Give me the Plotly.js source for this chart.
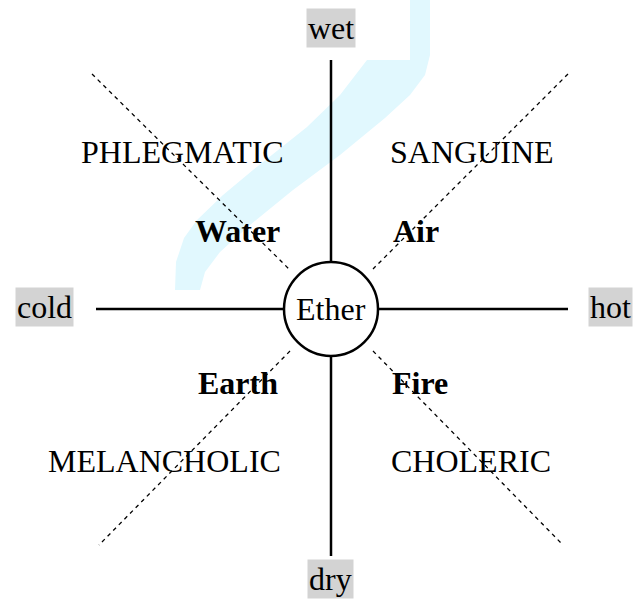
<!DOCTYPE html>
<html>
<head>
<meta charset="utf-8">
<script src="https://cdn.plot.ly/plotly-3.0.1.min.js"></script>
<style>html,body{margin:0;padding:0;background:#fff;}#chart{width:634px;height:599px;}</style>
</head>
<body>
<div id="chart"></div>
<script>
// Axis (quality) labels with grey boxes
const axisLabels = ["wet", "cold", "hot", "dry"];
const axisLabelX = [331, 44, 610, 330];
const axisLabelY = [28, 307, 307, 579];

// Temperament labels
const temperaments = ["PHLEGMATIC", "SANGUINE", "MELANCHOLIC", "CHOLERIC"];
const temperamentX = [182, 472, 164, 471];
const temperamentY = [152, 152, 461, 461];

// Elements
const elements = ["Water", "Air", "Earth", "Fire"];
const elementX = [237, 416, 238, 420];
const elementY = [231, 231, 383, 383];

// Centre
const centreLabel = "Ether";
const centreX = 331, centreY = 309, centreR = 47;

// Solid axis segments [x0,y0,x1,y1]
const solidSegments = [
  [331, 60, 331, 262],
  [331, 356, 331, 556],
  [96, 309, 284, 309],
  [378, 309, 568, 309]
];
// Dashed diagonal segments
const dashedSegments = [
  [92, 74, 289, 269],
  [568, 74, 373, 269],
  [290, 351, 99, 545],
  [373, 351, 563, 545]
];

// Watermark band outline
const bandX = [175,176,184,197,223,253,307,340,367,410,410,430,430,425,410,385,340,293,250,220,205,200];
const bandY = [290,262,238,220,195,170,127,95,60,60,0,0,55,75,95,118,155,190,225,252,272,290];

const font = "Liberation Serif, 'Times New Roman', Times, serif";
const fs = 32;
const shapes = [];
let p = "M " + bandX[0] + " " + bandY[0];
for (let i = 1; i < bandX.length; i++) p += " L " + bandX[i] + " " + bandY[i];
p += " Z";
shapes.push({type: "path", path: p, xref: "x", yref: "y", fillcolor: "#e1f8fe", line: {width: 0}, layer: "below"});
solidSegments.forEach(s => shapes.push({type: "line", xref: "x", yref: "y", x0: s[0], y0: s[1], x1: s[2], y1: s[3], line: {color: "#000", width: 2.5}}));
dashedSegments.forEach(s => shapes.push({type: "line", xref: "x", yref: "y", x0: s[0], y0: s[1], x1: s[2], y1: s[3], line: {color: "#000", width: 1.3, dash: "4px,4px"}}));
shapes.push({type: "circle", xref: "x", yref: "y", x0: centreX - centreR, x1: centreX + centreR, y0: centreY - centreR, y1: centreY + centreR, line: {color: "#000", width: 2.5}, fillcolor: "rgba(255,255,255,0)"});

const annotations = [];
axisLabels.forEach((t, i) => annotations.push({x: axisLabelX[i], y: axisLabelY[i], xref: "x", yref: "y", text: t, showarrow: false, bgcolor: "#d3d3d3", borderpad: 1, font: {family: font, size: fs, color: "#000"}}));
temperaments.forEach((t, i) => annotations.push({x: temperamentX[i], y: temperamentY[i], xref: "x", yref: "y", text: t, showarrow: false, font: {family: font, size: fs, color: "#000"}}));
elements.forEach((t, i) => annotations.push({x: elementX[i], y: elementY[i], xref: "x", yref: "y", text: "<b>" + t + "</b>", showarrow: false, font: {family: font, size: fs, color: "#000"}}));
annotations.push({x: centreX, y: centreY, xref: "x", yref: "y", text: centreLabel, showarrow: false, font: {family: font, size: fs, color: "#000"}});

const layout = {
  width: 634, height: 599,
  margin: {l: 0, r: 0, t: 0, b: 0},
  paper_bgcolor: "#fff", plot_bgcolor: "#fff",
  xaxis: {range: [0, 634], visible: false, fixedrange: true},
  yaxis: {range: [599, 0], visible: false, fixedrange: true},
  showlegend: false,
  shapes: shapes,
  annotations: annotations
};
Plotly.newPlot("chart", [{x: [], y: [], type: "scatter", mode: "markers"}], layout, {staticPlot: true, displayModeBar: false});
</script>
</body>
</html>
